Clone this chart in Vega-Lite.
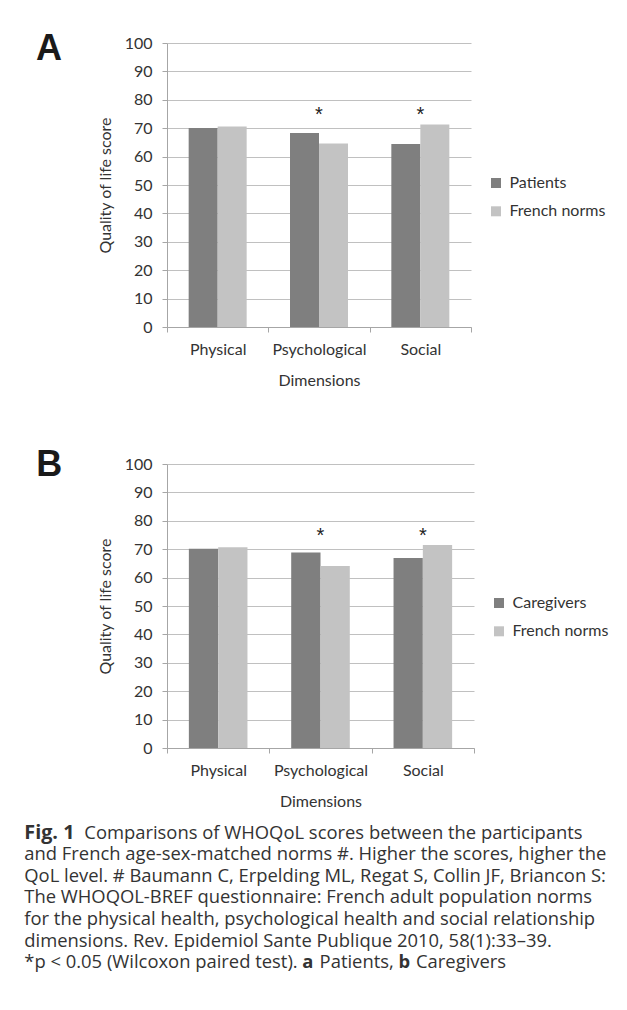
{
  "$schema": "https://vega.github.io/schema/vega-lite/v6.json",
  "padding": {"left": 24, "top": 31, "right": 5, "bottom": 5},
  "bounds": "flush",
  "spacing": 137,
  "config": {
    "view": {"stroke": null},
    "font": "Lato",
    "axis": {
      "labelFont": "Lato", "labelFontSize": 16, "labelColor": "#333333",
      "titleFont": "Lato", "titleFontSize": 16, "titleFontWeight": "normal", "titleColor": "#333333",
      "domainColor": "#a6a6a6", "tickColor": "#a6a6a6", "tickSize": 5, "gridColor": "#c0c0c0"
    },
    "axisX": {"grid": false, "labelAngle": 0, "tickBand": "extent", "labelPadding": 9, "titlePadding": 15},
    "axisY": {"grid": true, "tickCount": 10, "labelOverlap": false, "labelPadding": 10, "titlePadding": 11},
    "legend": {
      "labelFont": "Lato", "labelFontSize": 16, "labelColor": "#333333",
      "symbolType": "square", "symbolSize": 100, "symbolStrokeWidth": 0,
      "labelOffset": 5.5, "rowPadding": 12.3, "padding": 0, "title": null
    }
  },
  "resolve": {"scale": {"color": "independent", "x": "independent", "y": "independent"}, "legend": {"color": "independent"}},
  "vconcat": [
    {
      "width": 304, "height": 284,
      "title": {"text": "A", "anchor": "start", "frame": "group", "font": "Liberation Sans", "fontSize": 36, "fontWeight": "bold", "color": "#1a1a1a", "baseline": "alphabetic", "offset": -61.3, "dx": -131},
      "data": {"values": [
        {"dimension": "Physical", "group": "Patients", "score": 70.1},
        {"dimension": "Physical", "group": "French norms", "score": 70.6},
        {"dimension": "Psychological", "group": "Patients", "score": 68.3},
        {"dimension": "Psychological", "group": "French norms", "score": 64.6},
        {"dimension": "Social", "group": "Patients", "score": 64.4},
        {"dimension": "Social", "group": "French norms", "score": 71.3}
      ]},
      "layer": [
        {
          "transform": [{"filter": "datum.group === 'Patients'"}],
          "mark": {"type": "bar", "width": 29, "xOffset": -14.5},
          "encoding": {
            "x": {"field": "dimension", "type": "nominal", "sort": ["Physical", "Psychological", "Social"],
                  "scale": {"paddingInner": 0, "paddingOuter": 0}, "axis": {"title": "Dimensions"}},
            "y": {"field": "score", "type": "quantitative", "scale": {"domain": [0, 100], "nice": false},
                  "axis": {"title": "Quality of life score"}},
            "color": {"field": "group", "type": "nominal",
                      "scale": {"domain": ["Patients", "French norms"], "range": ["#7f7f7f", "#c3c3c3"]},
                      "legend": {"orient": "none", "legendX": 321, "legendY": 132}}
          }
        },
        {
          "transform": [{"filter": "datum.group === 'French norms'"}],
          "mark": {"type": "bar", "width": 29, "xOffset": 14.5},
          "encoding": {
            "x": {"field": "dimension", "type": "nominal", "sort": ["Physical", "Psychological", "Social"]},
            "y": {"field": "score", "type": "quantitative"},
            "color": {"field": "group", "type": "nominal"}
          }
        },
        {
          "data": {"values": [{"dimension": "Psychological", "sig": "*"}, {"dimension": "Social", "sig": "*"}]},
          "mark": {"type": "text", "font": "Liberation Sans", "fontSize": 20, "baseline": "alphabetic", "color": "#222222"},
          "encoding": {
            "x": {"field": "dimension", "type": "nominal", "sort": ["Physical", "Psychological", "Social"]},
            "y": {"datum": 72.4},
            "text": {"field": "sig"}
          }
        }
      ]
    },
    {
      "width": 307, "height": 284,
      "title": {"text": "B", "anchor": "start", "frame": "group", "font": "Liberation Sans", "fontSize": 36, "fontWeight": "bold", "color": "#1a1a1a", "baseline": "alphabetic", "offset": -56.3, "dx": -130.7},
      "data": {"values": [
        {"dimension": "Physical", "group": "Caregivers", "score": 70.2},
        {"dimension": "Physical", "group": "French norms", "score": 70.7},
        {"dimension": "Psychological", "group": "Caregivers", "score": 68.8},
        {"dimension": "Psychological", "group": "French norms", "score": 64.1},
        {"dimension": "Social", "group": "Caregivers", "score": 66.9},
        {"dimension": "Social", "group": "French norms", "score": 71.5}
      ]},
      "layer": [
        {
          "transform": [{"filter": "datum.group === 'Caregivers'"}],
          "mark": {"type": "bar", "width": 29.3, "xOffset": -14.65},
          "encoding": {
            "x": {"field": "dimension", "type": "nominal", "sort": ["Physical", "Psychological", "Social"],
                  "scale": {"paddingInner": 0, "paddingOuter": 0}, "axis": {"title": "Dimensions"}},
            "y": {"field": "score", "type": "quantitative", "scale": {"domain": [0, 100], "nice": false},
                  "axis": {"title": "Quality of life score"}},
            "color": {"field": "group", "type": "nominal",
                      "scale": {"domain": ["Caregivers", "French norms"], "range": ["#7f7f7f", "#c3c3c3"]},
                      "legend": {"orient": "none", "legendX": 324, "legendY": 131}}
          }
        },
        {
          "transform": [{"filter": "datum.group === 'French norms'"}],
          "mark": {"type": "bar", "width": 29.3, "xOffset": 14.65},
          "encoding": {
            "x": {"field": "dimension", "type": "nominal", "sort": ["Physical", "Psychological", "Social"]},
            "y": {"field": "score", "type": "quantitative"},
            "color": {"field": "group", "type": "nominal"}
          }
        },
        {
          "data": {"values": [{"dimension": "Psychological", "sig": "*"}, {"dimension": "Social", "sig": "*"}]},
          "mark": {"type": "text", "font": "Liberation Sans", "fontSize": 20, "baseline": "alphabetic", "color": "#222222"},
          "encoding": {
            "x": {"field": "dimension", "type": "nominal", "sort": ["Physical", "Psychological", "Social"]},
            "y": {"datum": 72.4},
            "text": {"field": "sig"}
          }
        }
      ]
    },
    {
      "width": 304, "height": 151.2,
      "data": {"values": [
        {"line": 1, "seg": "fig", "text": "Fig. 1"},
        {"line": 1, "seg": "n1", "text": "Comparisons of WHOQoL scores between the participants"},
        {"line": 2, "seg": "n0", "text": "and French age-sex-matched norms #. Higher the scores, higher the"},
        {"line": 3, "seg": "n0", "text": "QoL level. # Baumann C, Erpelding ML, Regat S, Collin JF, Briancon S:"},
        {"line": 4, "seg": "n0", "text": "The WHOQOL-BREF questionnaire: French adult population norms"},
        {"line": 5, "seg": "n0", "text": "for the physical health, psychological health and social relationship"},
        {"line": 6, "seg": "n0", "text": "dimensions. Rev. Epidemiol Sante Publique 2010, 58(1):33–39."},
        {"line": 7, "seg": "n0", "text": "*p < 0.05 (Wilcoxon paired test)."},
        {"line": 7, "seg": "ba", "text": "a"},
        {"line": 7, "seg": "n2", "text": "Patients,"},
        {"line": 7, "seg": "bb", "text": "b"},
        {"line": 7, "seg": "n3", "text": "Caregivers"}
      ]},
      "encoding": {
        "y": {"field": "line", "type": "ordinal", "axis": null, "scale": {"type": "band", "paddingInner": 0, "paddingOuter": 0}},
        "x": {"value": 0},
        "text": {"field": "text"}
      },
      "layer": [
        {"transform": [{"filter": "datum.seg === 'n0'"}],
         "mark": {"type": "text", "align": "left", "baseline": "alphabetic", "font": "Open Sans", "fontSize": 18.4, "color": "#333333", "dx": -142.7, "dy": -57.2}},
        {"transform": [{"filter": "datum.seg === 'fig'"}],
         "mark": {"type": "text", "align": "left", "baseline": "alphabetic", "font": "Open Sans", "fontSize": 19.8, "fontWeight": "bold", "color": "#333333", "dx": -142.7, "dy": -57.2}},
        {"transform": [{"filter": "datum.seg === 'n1'"}],
         "mark": {"type": "text", "align": "left", "baseline": "alphabetic", "font": "Open Sans", "fontSize": 18.4, "color": "#333333", "dx": -82.7, "dy": -57.2}},
        {"transform": [{"filter": "datum.seg === 'ba'"}],
         "mark": {"type": "text", "align": "left", "baseline": "alphabetic", "font": "Open Sans", "fontSize": 18.4, "fontWeight": "bold", "color": "#333333", "dx": 135.3, "dy": -57.2}},
        {"transform": [{"filter": "datum.seg === 'n2'"}],
         "mark": {"type": "text", "align": "left", "baseline": "alphabetic", "font": "Open Sans", "fontSize": 18.4, "color": "#333333", "dx": 152.6, "dy": -57.2}},
        {"transform": [{"filter": "datum.seg === 'bb'"}],
         "mark": {"type": "text", "align": "left", "baseline": "alphabetic", "font": "Open Sans", "fontSize": 18.4, "fontWeight": "bold", "color": "#333333", "dx": 231.6, "dy": -57.2}},
        {"transform": [{"filter": "datum.seg === 'n3'"}],
         "mark": {"type": "text", "align": "left", "baseline": "alphabetic", "font": "Open Sans", "fontSize": 18.4, "color": "#333333", "dx": 249, "dy": -57.2}}
      ]
    }
  ]
}
